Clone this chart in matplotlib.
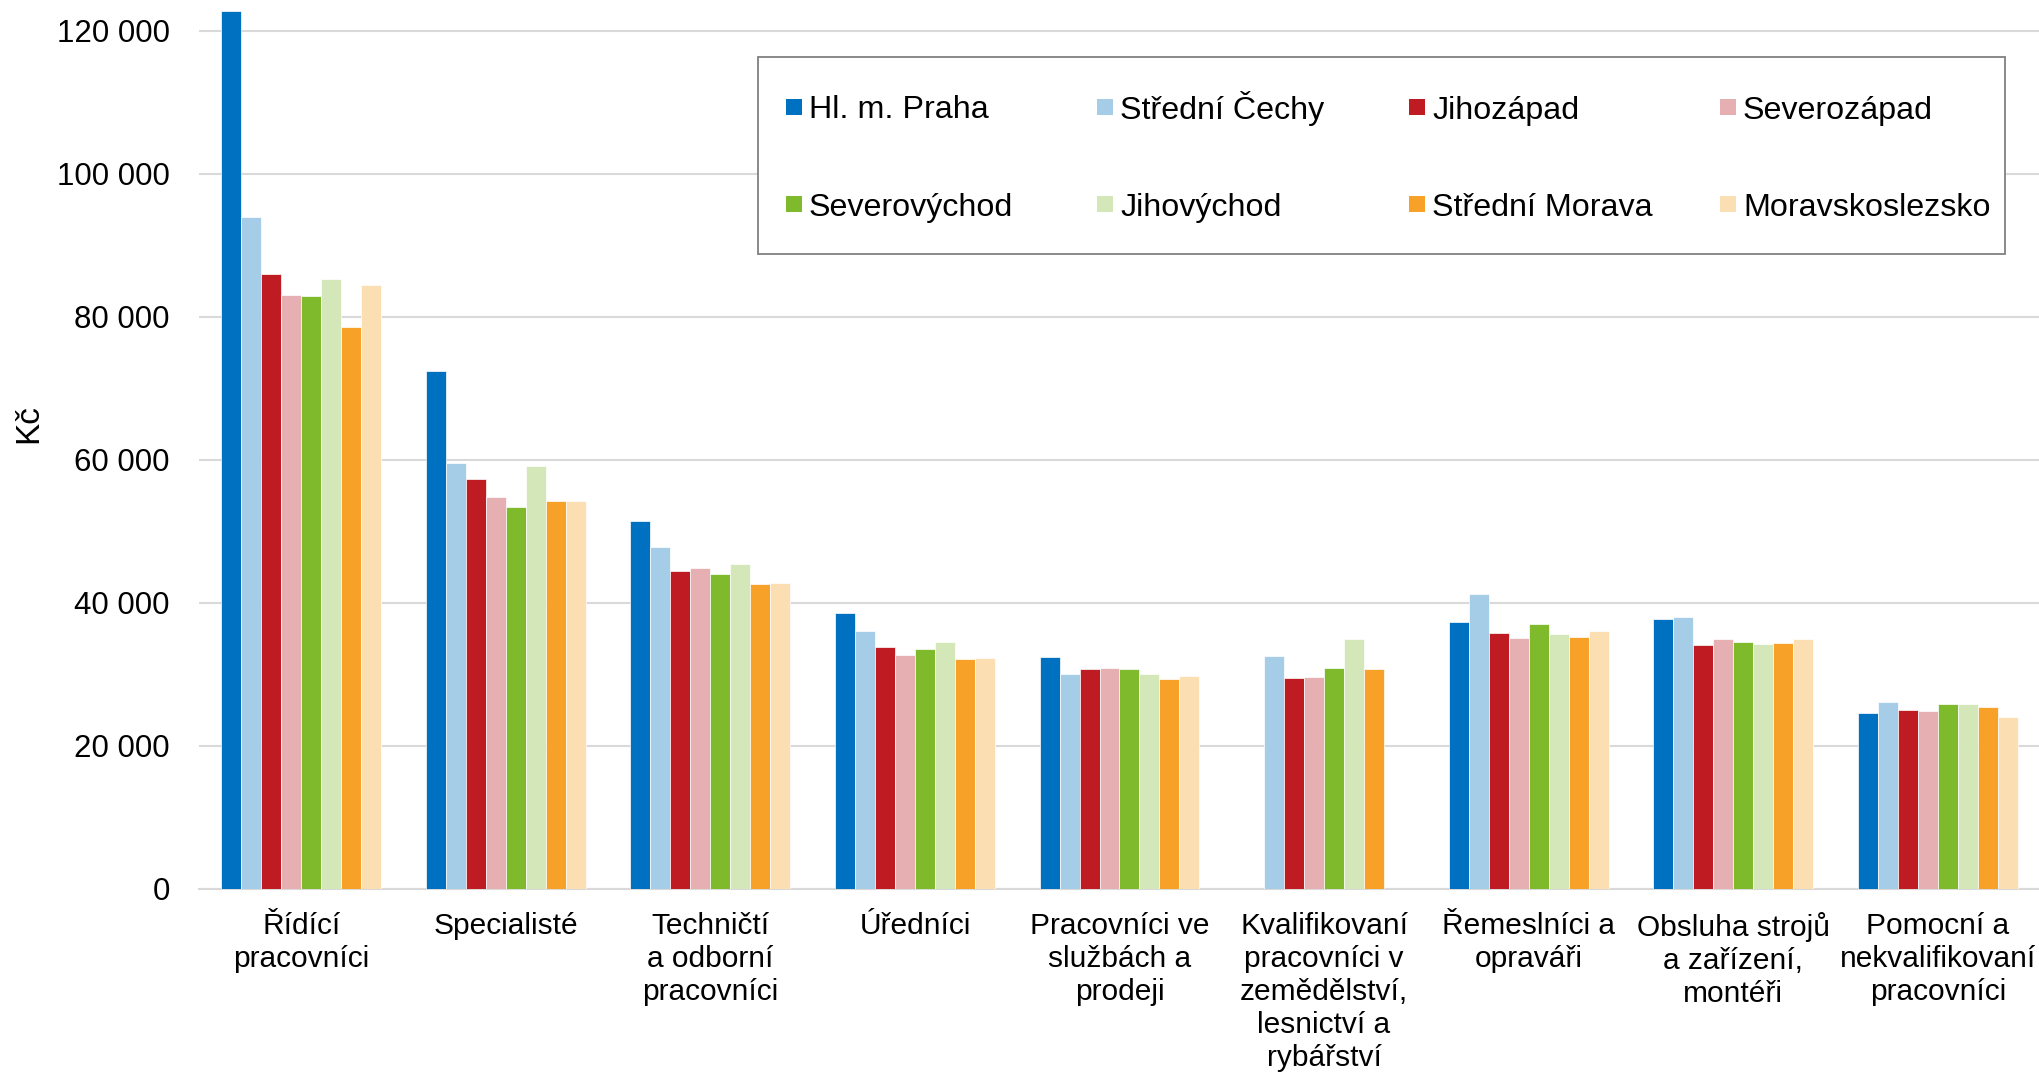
import numpy as np
import matplotlib
matplotlib.use("Agg")
import matplotlib.pyplot as plt
from matplotlib.patches import Rectangle
from matplotlib.ticker import FuncFormatter

nan = np.nan
categories = ["Řídící\npracovníci", "Specialisté", "Techničtí\na odborní\npracovníci",
              "Úředníci", "Pracovníci ve\nslužbách a\nprodeji",
              "Kvalifikovaní\npracovníci v\nzemědělství,\nlesnictví a\nrybářství",
              "Řemeslníci a\nopraváři", "Obsluha strojů\na zařízení,\nmontéři",
              "Pomocní a\nnekvalifikovaní\npracovníci"]
series_names = ["Hl. m. Praha", "Střední Čechy", "Jihozápad", "Severozápad",
                "Severovýchod", "Jihovýchod", "Střední Morava", "Moravskoslezsko"]
praha = [122800, 72400, 51500, 38600, 32400, nan, 37300, 37800, 24600]
stredni_cechy = [94000, 59500, 47800, 36100, 30100, 32600, 41300, 38000, 26200]
jihozapad = [86000, 57300, 44500, 33900, 30800, 29500, 35800, 34100, 25000]
severozapad = [83100, 54800, 44900, 32700, 30900, 29600, 35100, 35000, 24900]
severovychod = [82900, 53400, 44100, 33600, 30800, 30900, 37100, 34500, 25900]
jihovychod = [85300, 59200, 45400, 34600, 30000, 34900, 35600, 34200, 25800]
stredni_morava = [78600, 54300, 42600, 32100, 29300, 30800, 35300, 34400, 25400]
moravskoslezsko = [84500, 54200, 42800, 32300, 29800, nan, 36100, 35000, 24100]
yticks = [0, 20000, 40000, 60000, 80000, 100000, 120000]

series = [praha, stredni_cechy, jihozapad, severozapad, severovychod,
          jihovychod, stredni_morava, moravskoslezsko]
colors = ["#0070c0", "#a6cde8", "#be1b23", "#e6afb2", "#7fba2c",
          "#d3e7b8", "#f7a128", "#fcdeb3"]

plt.rcParams['font.family'] = ['Liberation Sans', 'DejaVu Sans']

W, H = 2040, 1075
fig = plt.figure(figsize=(W / 100, H / 100), dpi=100)
ax = fig.add_axes([199 / W, (H - 889) / H, 1841 / W, 889 / H])

x = np.arange(len(categories))
bw = 0.0977
for i, (vals, c) in enumerate(zip(series, colors)):
    ax.bar(x + (i - 3.5) * bw, np.array(vals, dtype=float), width=bw, color=c,
           edgecolor="white", linewidth=0.5, zorder=3)

ax.set_xlim(-0.5, len(categories) - 0.5)
ax.set_ylim(0, 124300)
ax.set_yticks(yticks)
ax.yaxis.set_major_formatter(FuncFormatter(lambda v, p: f"{int(v):,}".replace(",", " ")))
ax.grid(axis="y", color="#d9d9d9", linewidth=1.5, zorder=0)
ax.set_axisbelow(True)
for s in ["top", "right", "left"]:
    ax.spines[s].set_visible(False)
ax.spines["bottom"].set_color("#d9d9d9")
ax.spines["bottom"].set_linewidth(1.5)
ax.tick_params(axis="y", length=0, pad=21, labelsize=22.5)
ax.tick_params(axis="x", length=0, pad=16.5, labelsize=21.5)
ax.set_xticks(x)
ax.set_xticklabels(categories, linespacing=1.23, ha="center", va="top")

fig.text(29 / W, 1 - 424 / H, "Kč", rotation=90, ha="center", va="center", fontsize=24)

# legend (manual, equal-width columns like the original)
fig.patches.append(Rectangle((758 / W, 1 - 254 / H), (2005 - 758) / W, (254 - 57) / H,
                             transform=fig.transFigure, facecolor="white",
                             edgecolor="#808080", linewidth=1.3, zorder=5))
col_x = [786, 1097, 1409, 1720]
row_y = [107, 204]
sq = 16
for k, (name, c) in enumerate(zip(series_names, colors)):
    r, cc = divmod(k, 4)
    mx, my = col_x[cc], row_y[r]
    fig.patches.append(Rectangle((mx / W, 1 - (my + sq / 2) / H), sq / W, sq / H,
                                 transform=fig.transFigure, facecolor=c,
                                 edgecolor="none", zorder=6))
    fig.text((mx + sq + 7) / W, 1 - (my + 11.5) / H, name, ha="left", va="baseline",
             fontsize=23.2, zorder=7)

fig.savefig("out.png", dpi=100)
